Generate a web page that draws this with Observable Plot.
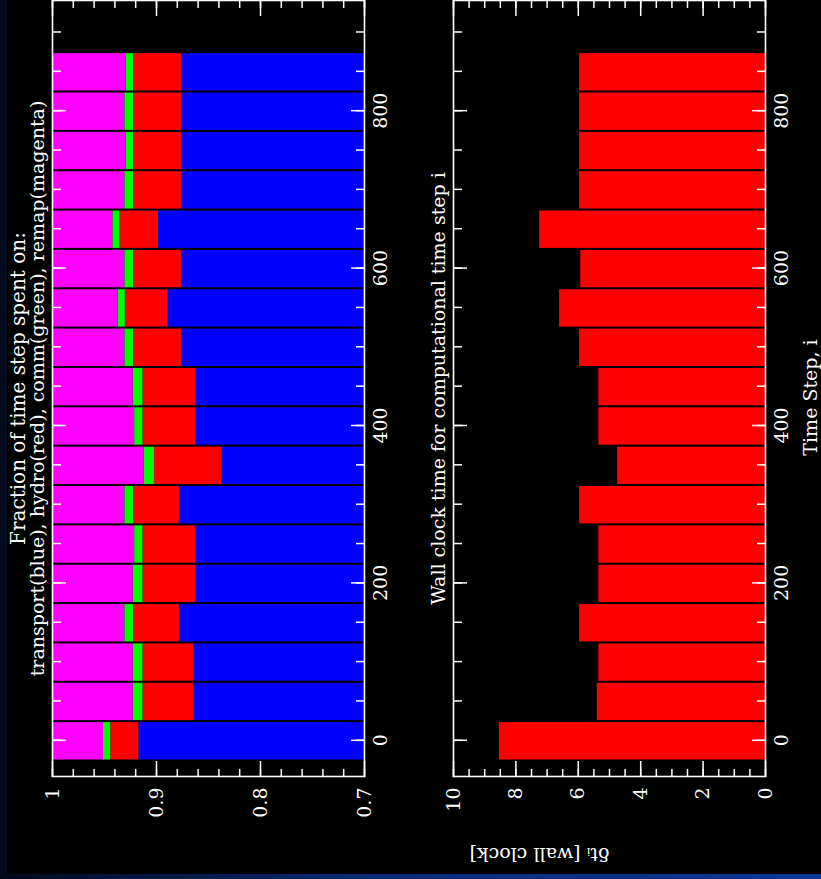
<!DOCTYPE html>
<html><head><meta charset="utf-8">
<script src="https://cdn.jsdelivr.net/npm/d3@7"></script>
<script src="https://cdn.jsdelivr.net/npm/@observablehq/plot@0.6"></script>
<style>
html,body{margin:0;padding:0;background:#000;width:821px;height:879px;overflow:hidden}
#stage{position:absolute;left:0;top:0;width:821px;height:879px;background:#000;overflow:hidden}
#rot{position:absolute;left:0;top:0;width:879px;height:821px;transform-origin:0 0;transform:translate(0px,879px) rotate(-90deg)}
#topPanel{position:absolute;left:0;top:0}
#bottomPanel{position:absolute;left:0;top:420px}
#leftstrip{position:absolute;left:0;top:0;width:7px;height:879px;background:#050b1e;z-index:5}
#bottomband{position:absolute;left:0;top:874px;width:821px;height:5px;background:linear-gradient(to right,#020818,#0a2a78 45%,#0b3898);z-index:5}
svg{display:block}
</style></head><body>
<div id="stage">
  <div id="rot"><div id="topPanel"></div><div id="bottomPanel"></div></div>
  <div id="leftstrip"></div><div id="bottomband"></div>
</div>
<script>
// ---- data ----
const steps = [0, 50, 100, 150, 200, 250, 300, 350, 400, 450, 500, 550, 600, 650, 700, 750, 800, 850];
const transport = [0.917, 0.864, 0.864, 0.878, 0.862, 0.862, 0.878, 0.837, 0.862, 0.862, 0.876, 0.889, 0.876, 0.898, 0.876, 0.876, 0.876, 0.876];
const hydro     = [0.027, 0.049, 0.049, 0.044, 0.051, 0.051, 0.044, 0.065, 0.051, 0.051, 0.046, 0.041, 0.046, 0.037, 0.046, 0.046, 0.046, 0.046];
const comm      = [0.007, 0.0095, 0.0095, 0.0085, 0.0095, 0.008, 0.0085, 0.010, 0.008, 0.0095, 0.0085, 0.007, 0.0085, 0.007, 0.0085, 0.007, 0.0085, 0.007];
const remap     = [0.049, 0.078, 0.078, 0.0695, 0.078, 0.0795, 0.0695, 0.088, 0.0795, 0.078, 0.0695, 0.063, 0.0695, 0.058, 0.0695, 0.071, 0.0695, 0.071];
const wallClock = [8.53, 5.39, 5.34, 5.96, 5.34, 5.34, 5.96, 4.74, 5.34, 5.34, 5.96, 6.60, 5.92, 7.24, 5.96, 5.96, 5.96, 5.96];

const parts = ["transport", "hydro", "comm", "remap"];
const partColors = ["#0000ff", "#ff0000", "#00ff00", "#ff00ff"];

const stepTicks = [0, 200, 400, 600, 800];
const stepMinorTicks = [0, 50, 100, 150, 200, 250, 300, 350, 400, 450, 500, 550, 600, 650, 700, 750, 800, 850, 900];
const fracTicks = [0.7, 0.8, 0.9, 1];
const fracTickLabels = ["0.7", "0.8", "0.9", "1"];
const fracMinorTicks = d3.range(35, 51).map(i => i / 50);
const wallTicks = [0, 2, 4, 6, 8, 10];
const wallTickLabels = ["0", "2", "4", "6", "8", "10"];
const wallMinorTicks = d3.range(0, 21).map(i => i / 2);

const titleLines = ["Fraction of time step spent on:", "transport(blue), hydro(red), comm(green), remap(magenta)"];
const wallTitle = "Wall clock time for computational time step i";
const xLabel = "Time Step, i";
const yLabel = "δtᵢ [wall clock]";

// ---- tables ----
const fracRows = steps.flatMap((s, i) => [
  {step: s, part: "transport", frac: transport[i]},
  {step: s, part: "hydro", frac: hydro[i]},
  {step: s, part: "comm", frac: comm[i]},
  {step: s, part: "remap", frac: remap[i]}
]);
const wallRows = steps.map((s, i) => ({step: s, dt: wallClock[i]}));

const W = 879;
const xDomain = [-46, 940];
const style = {fontFamily: "'DejaVu Serif', serif", fontSize: "19px", color: "white", background: "transparent", overflow: "visible"};

function frameAxes(yMajor, yLabels, yMinor) {
  const t = {label: null, strokeWidth: 1.5, tickFormat: () => ""};
  return [
    Plot.frame({stroke: "white", strokeWidth: 1.6}),
    // time-step ticks (inward) on both long sides
    Plot.axisX(stepMinorTicks, {...t, anchor: "bottom", tickSize: -8}),
    Plot.axisX(stepMinorTicks, {...t, anchor: "top", tickSize: -8}),
    Plot.axisX(stepTicks, {...t, anchor: "bottom", tickSize: -13}),
    Plot.axisX(stepTicks, {...t, anchor: "top", tickSize: -13}),
    Plot.axisX(stepTicks, {anchor: "bottom", label: null, tickSize: 0, tickPadding: 9, tickFormat: d => String(d)}),
    // value ticks (inward) on both short sides
    Plot.axisY(yMinor, {...t, anchor: "left", tickSize: -8}),
    Plot.axisY(yMinor, {...t, anchor: "right", tickSize: -8}),
    Plot.axisY(yMajor, {...t, anchor: "left", tickSize: -16}),
    Plot.axisY(yMajor, {...t, anchor: "right", tickSize: -16}),
    Plot.axisY(yMajor, {anchor: "left", label: null, tickSize: 0, tickPadding: 11, tickFormat: d => yLabels[yMajor.indexOf(d)]})
  ];
}

const topPlot = Plot.plot({
  width: W, height: 420,
  marginLeft: 102, marginRight: 1, marginTop: 52, marginBottom: 56,
  style,
  x: {domain: xDomain, label: null},
  y: {domain: [0.7, 1], label: null},
  color: {domain: parts, range: partColors},
  marks: [
    Plot.rectY(fracRows, {x1: d => d.step - 25, x2: d => d.step + 25, y: "frac", fill: "part", insetLeft: 1, insetRight: 1, clip: true}),
    ...frameAxes(fracTicks, fracTickLabels, fracMinorTicks),
    Plot.text([titleLines[0]], {frameAnchor: "top", dy: -34, fill: "white", lineAnchor: "middle", fontSize: 20}),
    Plot.text([titleLines[1]], {frameAnchor: "top", dy: -15, fill: "white", lineAnchor: "middle"})
  ]
});
document.getElementById("topPanel").appendChild(topPlot);

const bottomPlot = Plot.plot({
  width: W, height: 401,
  marginLeft: 102, marginRight: 1, marginTop: 33, marginBottom: 56,
  style,
  x: {domain: xDomain, label: null},
  y: {domain: [0, 10], label: null},
  marks: [
    Plot.rectY(wallRows, {x1: d => d.step - 25, x2: d => d.step + 25, y: "dt", fill: "#ff0000", insetLeft: 1, insetRight: 1}),
    ...frameAxes(wallTicks, wallTickLabels, wallMinorTicks),
    Plot.text([wallTitle], {frameAnchor: "top", dy: -15, fill: "white", lineAnchor: "middle"}),
    Plot.text([xLabel], {frameAnchor: "bottom", dy: 45, dx: -9, fill: "white", lineAnchor: "middle"}),
    Plot.text([yLabel], {frameAnchor: "left", dx: -78, rotate: -90, fill: "white", lineAnchor: "middle"})
  ]
});
document.getElementById("bottomPanel").appendChild(bottomPlot);
</script>
</body></html>
